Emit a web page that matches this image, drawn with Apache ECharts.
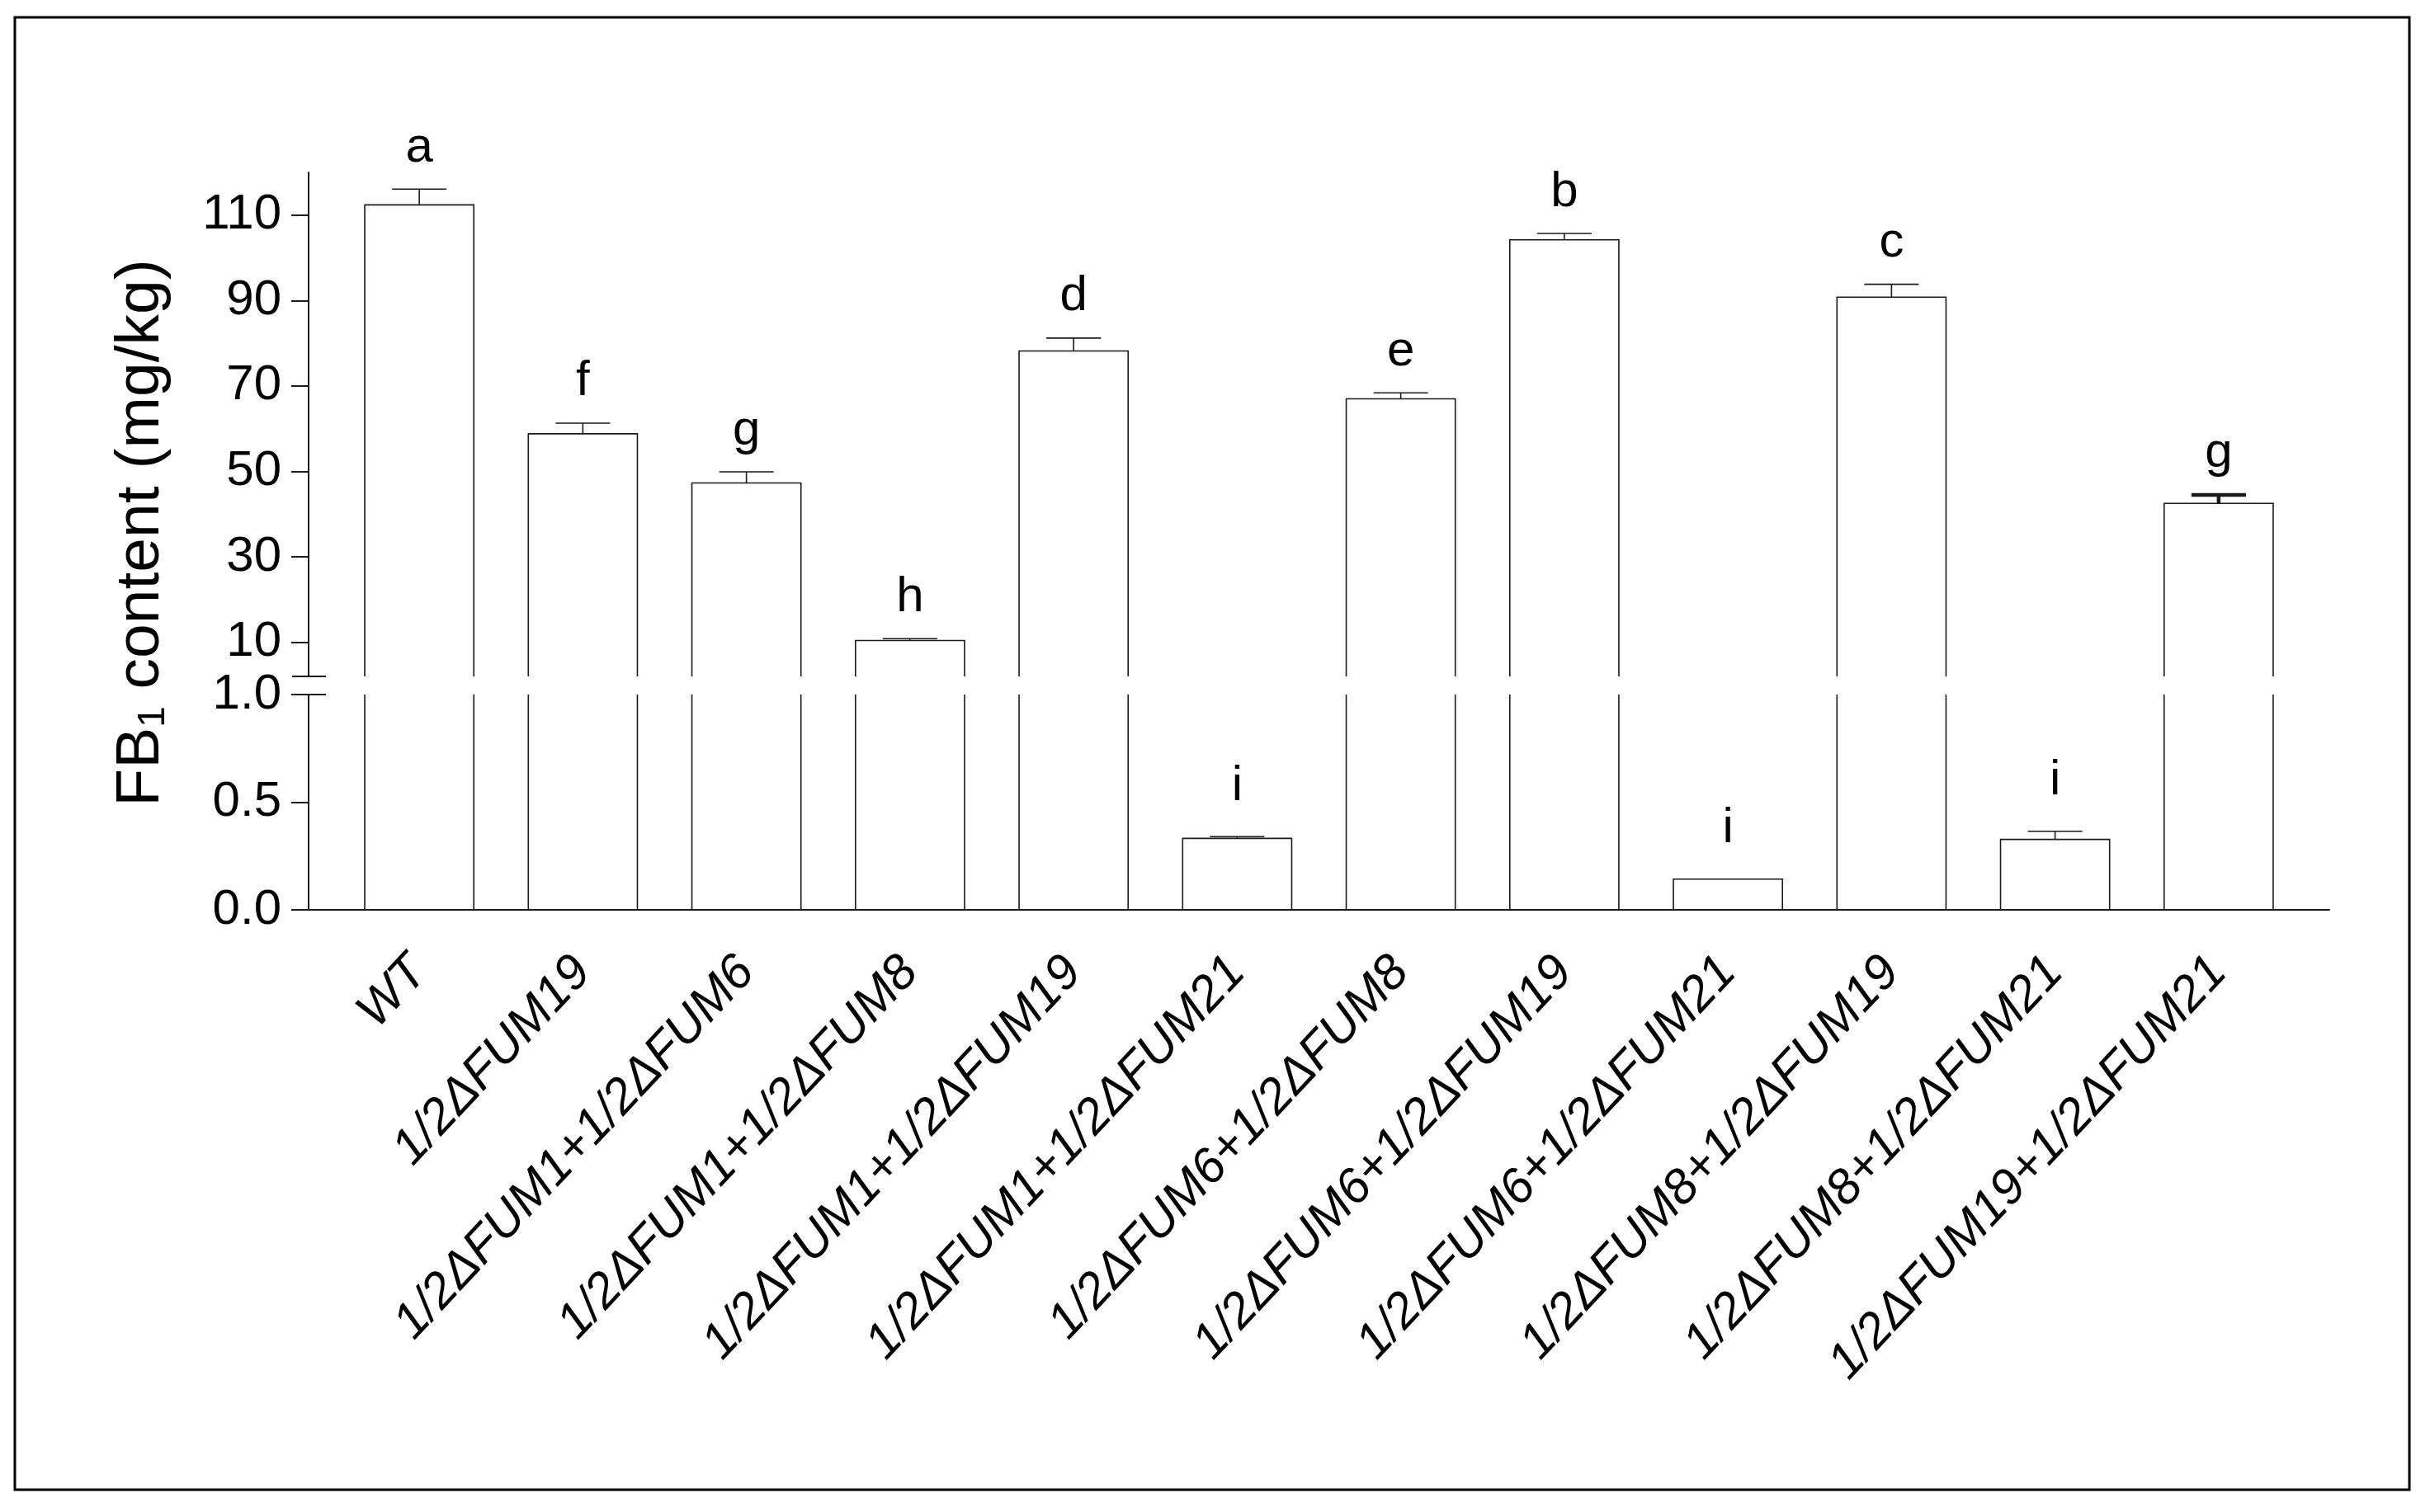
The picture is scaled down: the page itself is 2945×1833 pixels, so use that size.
<!DOCTYPE html>
<html>
<head>
<meta charset="utf-8">
<title>FB1 content</title>
<script src="https://cdn.jsdelivr.net/npm/echarts@6/dist/echarts.min.js"></script>
<style>
html, body { margin: 0; padding: 0; background: #fff; }
#chart { width: 2945px; height: 1833px; }
</style>
</head>
<body>
<div id="chart"></div>
<script>
// data
var categories = ['WT', '1/2ΔFUM19', '1/2ΔFUM1+1/2ΔFUM6', '1/2ΔFUM1+1/2ΔFUM8',
    '1/2ΔFUM1+1/2ΔFUM19', '1/2ΔFUM1+1/2ΔFUM21', '1/2ΔFUM6+1/2ΔFUM8',
    '1/2ΔFUM6+1/2ΔFUM19', '1/2ΔFUM6+1/2ΔFUM21', '1/2ΔFUM8+1/2ΔFUM19',
    '1/2ΔFUM8+1/2ΔFUM21', '1/2ΔFUM19+1/2ΔFUM21'];
var means = [112.4, 58.8, 47.3, 10.4, 78.2, 0.332, 67.0, 104.2, 0.143, 90.8, 0.327, 42.5];
var errors = [3.7, 2.5, 2.6, 0.45, 3.0, 0.008, 1.4, 1.5, 0, 3.0, 0.038, 2.0];
var letters = ['a', 'f', 'g', 'h', 'd', 'i', 'e', 'b', 'i', 'c', 'i', 'g'];
var topTicks = [10, 30, 50, 70, 90, 110];
var bottomTicks = [0, 0.5, 1.0];
var topRange = [2, 120];
var bottomRange = [0, 1];

var FONT = '"Liberation Sans", Arial, Helvetica, sans-serif';
var INK = '#1a1a1a';
var heavyErrorBar = 11;   // the last error bar is drawn heavier in the figure

var rows = categories.map(function (c, i) { return [i, means[i], errors[i]]; });

function seg(x1, y1, x2, y2, w) {
    return { type: 'line', shape: { x1: x1, y1: y1, x2: x2, y2: y2 },
        style: { stroke: INK, lineWidth: w || 1.6 } };
}

// draws the part of each bar that falls inside one panel of the broken axis
function renderPanel(range, labelGap) {
    return function (params, api) {
        var i = api.value(0);
        var v = api.value(1);
        var err = api.value(2);
        if (v <= range[0]) return null;
        var band = api.size([1, 0])[0];
        var half = band / 3;
        var top = api.coord([i, Math.min(v, range[1])]);
        var base = api.coord([i, range[0]])[1];
        var xl = top[0] - half, xr = top[0] + half;
        var children = [];
        if (v > range[1]) {
            children.push(seg(xl, base, xl, top[1]), seg(xr, base, xr, top[1]));
            return { type: 'group', children: children };
        }
        children.push({ type: 'polyline',
            shape: { points: [[xl, base], [xl, top[1]], [xr, top[1]], [xr, base]] },
            style: { stroke: INK, fill: 'none', lineWidth: 1.6 } });
        var yTop = top[1];
        if (err > 0) {
            var w = params.dataIndex === heavyErrorBar ? 4.5 : 1.6;
            var e = api.coord([i, v + err])[1];
            children.push(seg(top[0], top[1], top[0], e, w));
            children.push(seg(top[0] - band / 6, e, top[0] + band / 6, e, w));
            yTop = e;
        }
        children.push({ type: 'text', x: top[0], y: yTop - labelGap,
            style: { text: letters[params.dataIndex], fill: '#000', fontSize: 60,
                fontFamily: FONT, align: 'center', verticalAlign: 'bottom' } });
        return { type: 'group', children: children };
    };
}

var axisLine = { show: true, lineStyle: { color: INK, width: 2 } };
var labelStyle = { color: '#000', fontSize: 60, fontFamily: FONT };

var option = {
    animation: false,
    backgroundColor: '#fff',
    grid: [
        { left: 409, width: 2379, top: 209, height: 611 },
        { left: 409, width: 2379, top: 842, height: 261 },
        { left: 374, width: 2449, top: 189, height: 914 }
    ],
    xAxis: [
        { gridIndex: 0, type: 'category', data: categories, show: false },
        { gridIndex: 1, type: 'category', data: categories,
          axisLine: { show: false },
          axisTick: { alignWithLabel: true, length: 25, lineStyle: { color: INK, width: 2 } },
          axisLabel: { interval: 0, rotate: 47, margin: 66, fontStyle: 'italic',
              fontSize: 60, color: '#000', fontFamily: FONT } },
        { gridIndex: 2, type: 'value', min: 0, max: 1, axisLine: axisLine,
          axisTick: { show: false }, axisLabel: { show: false }, splitLine: { show: false } }
    ],
    yAxis: [
        { gridIndex: 0, type: 'value', min: topRange[0], max: topRange[1], offset: 35,
          axisLine: axisLine,
          axisTick: { show: true, length: 21, customValues: topTicks, lineStyle: { color: INK, width: 2 } },
          axisLabel: Object.assign({ customValues: topTicks, margin: 33 }, labelStyle),
          splitLine: { show: false } },
        { gridIndex: 1, type: 'value', min: bottomRange[0], max: bottomRange[1], offset: 35,
          axisLine: axisLine,
          axisTick: { show: true, length: 21, customValues: bottomTicks, lineStyle: { color: INK, width: 2 } },
          axisLabel: Object.assign({ customValues: bottomTicks, margin: 33,
              formatter: function (v) { return v.toFixed(1); } }, labelStyle),
          splitLine: { show: false } },
        { gridIndex: 2, type: 'value', min: 0, max: 1,
          axisLine: { show: false }, axisTick: { show: false }, axisLabel: { show: false },
          splitLine: { show: false },
          name: '{t|FB}{s|1}{t| content (mg/kg)}',
          nameLocation: 'middle', nameGap: 165,
          nameTextStyle: { rich: {
              t: { fontSize: 75, lineHeight: 75, fontFamily: FONT, color: '#000', verticalAlign: 'top' },
              s: { fontSize: 46, lineHeight: 46, fontFamily: FONT, color: '#000',
                   verticalAlign: 'bottom', padding: [40, 0, 0, 0] }
          } } }
    ],
    series: [
        { type: 'custom', xAxisIndex: 0, yAxisIndex: 0, data: rows,
          renderItem: renderPanel(topRange, 20) },
        { type: 'custom', xAxisIndex: 1, yAxisIndex: 1, data: rows,
          renderItem: renderPanel(bottomRange, 31) }
    ]
};

var chart = echarts.init(document.getElementById('chart'));
chart.setOption(option);

// axis break marks and the outer frame
var axisX = chart.convertToPixel({ xAxisIndex: 2 }, 0);
var yBreakTop = chart.convertToPixel({ yAxisIndex: 0 }, topRange[0]);
var yBreakBottom = chart.convertToPixel({ yAxisIndex: 1 }, bottomRange[1]);
chart.setOption({
    graphic: [
        { type: 'rect', shape: { x: 18, y: 21, width: 2902, height: 1785 },
          style: { stroke: '#000', fill: 'none', lineWidth: 3 } },
        { type: 'line', shape: { x1: axisX - 20, y1: yBreakTop, x2: axisX + 21, y2: yBreakTop },
          style: { stroke: INK, lineWidth: 2 } },
        { type: 'line', shape: { x1: axisX - 20, y1: yBreakBottom, x2: axisX + 21, y2: yBreakBottom },
          style: { stroke: INK, lineWidth: 2 } }
    ]
});
</script>
</body>
</html>
